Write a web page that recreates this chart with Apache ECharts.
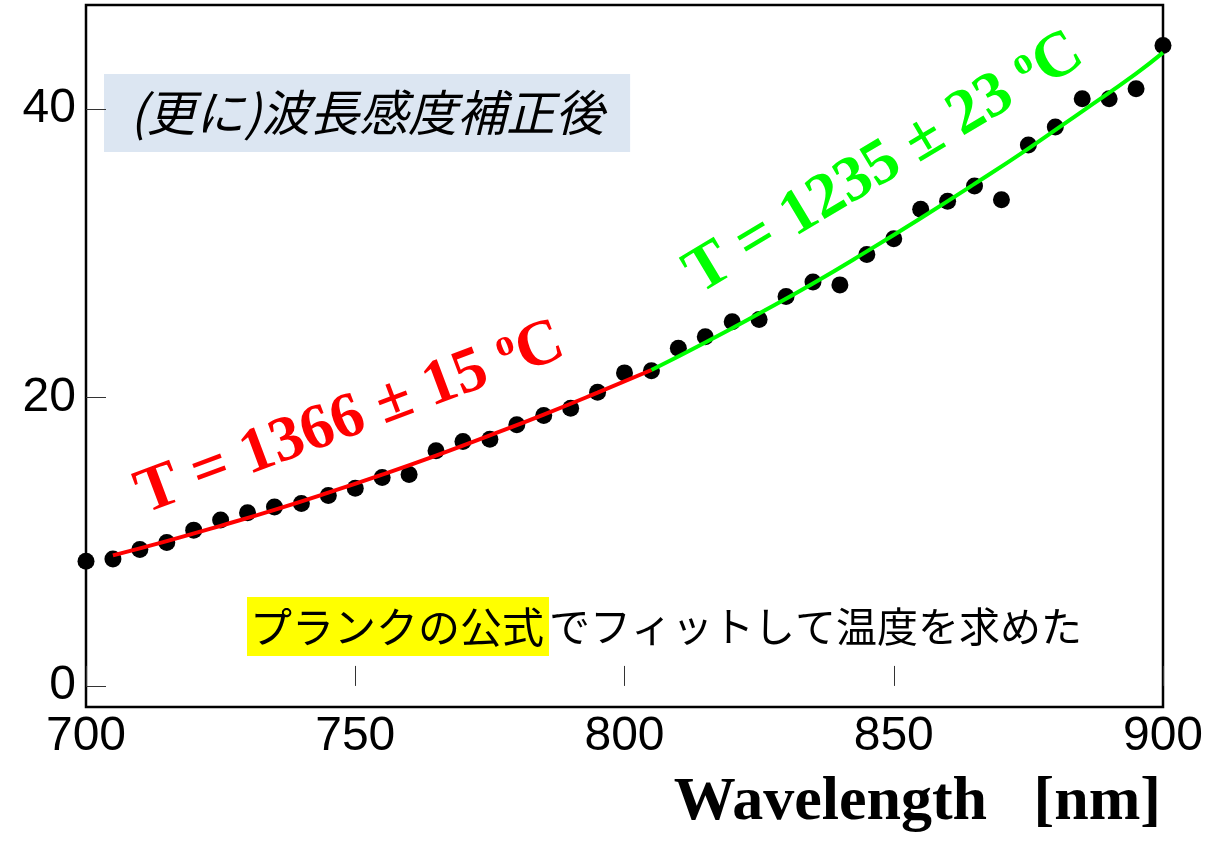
<!DOCTYPE html>
<html>
<head>
<meta charset="utf-8">
<script src="https://cdn.jsdelivr.net/npm/echarts@6/dist/echarts.min.js"></script>
<style>
  html, body { margin: 0; padding: 0; background: #fff; }
  #chart { width: 1209px; height: 842px; }
</style>
</head>
<body>
<div id="chart"></div>
<script>
// Measured spectrum (after wavelength-sensitivity correction)
const wavelengths = [700, 705, 710, 715, 720, 725, 730, 735, 740, 745, 750, 755, 760, 765, 770, 775, 780, 785, 790, 795,
                     800, 805, 810, 815, 820, 825, 830, 835, 840, 845, 850, 855, 860, 865, 870, 875, 880, 885, 890, 895, 900];
const intensity = [8.65, 8.8, 9.45, 9.95, 10.8, 11.5, 12.0, 12.4, 12.65, 13.2, 13.7, 14.45, 14.65, 16.3, 16.95, 17.1, 18.1, 18.75, 19.25, 20.35,
                   21.7, 21.85, 23.4, 24.2, 25.25, 25.4, 27.0, 28.0, 27.8, 29.9, 31.0, 33.05, 33.6, 34.65, 33.7, 37.5, 38.75, 40.7, 40.7, 41.4, 44.4];

// Planck fit, lower band (T = 1366 ± 15 °C)
const fitLowX = [705, 715, 725, 735, 745, 755, 765, 775, 785, 795, 805];
const fitLowY = [9.05, 10.04, 11.1, 12.21, 13.4, 14.65, 15.97, 17.37, 18.81, 20.33, 21.9];

// Planck fit, upper band (T = 1235 ± 23 °C)
const fitHighX = [805, 815, 825, 835, 845, 855, 865, 875, 885, 895, 900];
const fitHighY = [21.9, 23.81, 25.82, 27.9, 30.12, 32.42, 34.8, 37.25, 39.83, 42.45, 43.9];

const yTicks = [0, 20, 40];

const zip = (xs, ys) => xs.map((x, i) => [x, ys[i]]);

const chart = echarts.init(document.getElementById('chart'), null, { renderer: 'canvas' });

const serifBold = "'Liberation Serif', 'Times New Roman', serif";
const sans = "'Liberation Sans', Arial, sans-serif";
const jp = "'Noto Sans CJK JP', sans-serif";

function tempLabel(value, err, color) {
  return {
    text: '{m|T = ' + value + ' ± ' + err + ' }{s|o}{m|C}',
    fill: color,
    align: 'center',
    verticalAlign: 'middle',
    rich: {
      m: { fontFamily: serifBold, fontWeight: 'bold', fontSize: 64, fill: color, lineHeight: 66, verticalAlign: 'bottom' },
      s: { fontFamily: serifBold, fontWeight: 'bold', fontSize: 38, fill: color, lineHeight: 66, verticalAlign: 'top' }
    }
  };
}

chart.setOption({
  animation: false,
  backgroundColor: '#ffffff',
  grid: {
    left: 86, right: 46, top: 5, bottom: 135,
    show: true, borderColor: '#000', borderWidth: 2.5, backgroundColor: 'transparent'
  },
  xAxis: {
    type: 'value',
    min: 700, max: 900, interval: 50,
    axisLine: { show: false },
    splitLine: { show: false },
    axisTick: { show: true, inside: true, length: 20, lineStyle: { color: '#333', width: 1 } },
    axisLabel: { color: '#000', fontFamily: sans, fontSize: 48, margin: 6, showMinLabel: true, showMaxLabel: true }
  },
  yAxis: {
    type: 'value',
    min: -1.46, max: 47.2,
    axisLine: { show: false },
    splitLine: { show: false },
    axisTick: { show: true, inside: true, length: 20, customValues: yTicks, lineStyle: { color: '#333', width: 1 } },
    axisLabel: { color: '#000', fontFamily: sans, fontSize: 48, margin: 10, customValues: yTicks }
  },
  series: [
    {
      type: 'scatter',
      data: zip(wavelengths, intensity),
      symbol: 'circle',
      symbolSize: 17,
      itemStyle: { color: '#000', opacity: 1 },
      z: 2
    },
    {
      type: 'line',
      data: zip(fitLowX, fitLowY),
      showSymbol: false,
      smooth: true,
      lineStyle: { color: '#ff0000', width: 4 },
      z: 3
    },
    {
      type: 'line',
      data: zip(fitHighX, fitHighY),
      showSymbol: false,
      smooth: true,
      lineStyle: { color: '#00ff00', width: 4 },
      z: 3
    }
  ],
  graphic: [
    {
      type: 'text',
      left: 104, top: 74,
      style: {
        text: '(更に)波長感度補正後',
        font: "italic 49px " + jp,
        fill: '#000',
        backgroundColor: '#dce6f2',
        padding: [14, 26, 15, 26]
      }
    },
    {
      type: 'text',
      left: 247, top: 597,
      style: {
        text: '{hl|プランクの公式}{n|でフィットして温度を求めた}',
        rich: {
          hl: { fontFamily: jp, fontSize: 42, fill: '#000', backgroundColor: '#ffff00', padding: [9, 5, 8, 3], lineHeight: 59 },
          n: { fontFamily: jp, fontSize: 41, fill: '#000', lineHeight: 59 }
        }
      }
    },
    {
      type: 'text',
      x: 350, y: 418,
      rotation: 20.5 * Math.PI / 180,
      style: tempLabel(1366, 15, '#ff0000')
    },
    {
      type: 'text',
      x: 884, y: 163,
      rotation: 31 * Math.PI / 180,
      style: tempLabel(1235, 23, '#00ff00')
    },
    {
      type: 'text',
      right: 48, top: 772,
      style: {
        text: 'Wavelength   [nm]',
        font: "bold 62px " + serifBold,
        fill: '#000'
      }
    }
  ]
});
</script>
</body>
</html>
